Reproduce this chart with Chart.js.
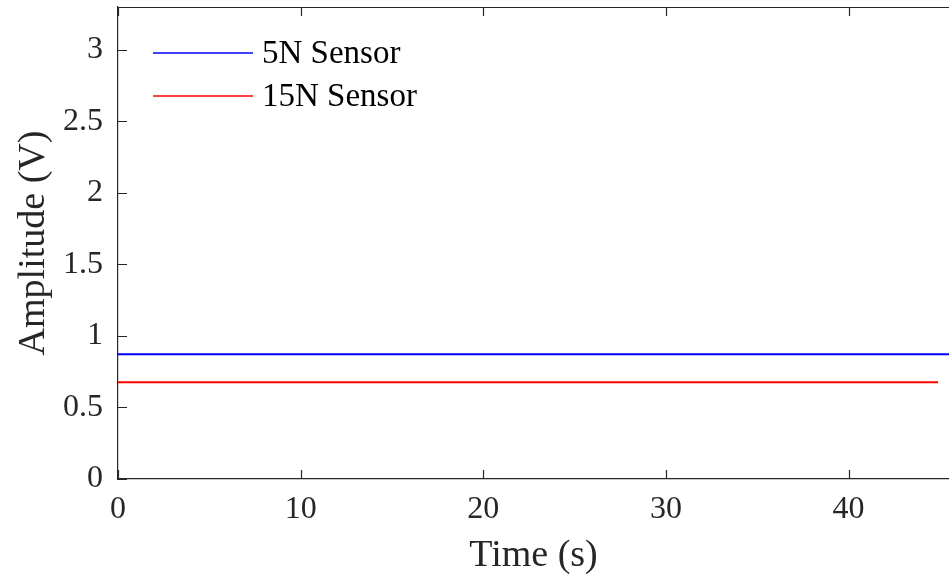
<!DOCTYPE html>
<html>
<head>
<meta charset="utf-8">
<script src="https://cdn.jsdelivr.net/npm/chart.js@4"></script>
<style>
  html, body { margin: 0; padding: 0; background: #fff; }
  #wrap { width: 949px; height: 581px; }
</style>
</head>
<body>
<div id="wrap"><canvas id="c"></canvas></div>
<script>
// valores
const tiempo5N = [0, 5, 10, 15, 20, 25, 30, 35, 40, 45.6];
const amp5N = [0.873, 0.872, 0.873, 0.873, 0.872, 0.873, 0.873, 0.872, 0.873, 0.873];
const tiempo15N = [0, 5, 10, 15, 20, 25, 30, 35, 40, 44.9];
const amp15N = [0.677, 0.677, 0.677, 0.676, 0.677, 0.677, 0.677, 0.677, 0.676, 0.677];
const xTicks = [0, 10, 20, 30, 40];
const yTicks = [0, 0.5, 1, 1.5, 2, 2.5, 3];
const etiquetas = ["5N Sensor", "15N Sensor"];
const colores = ["#0000ff", "#ff0000"];

const fuente = "'Liberation Serif', 'DejaVu Serif', serif";
const ejeColor = "#262626";

// ticks hacia dentro, borde superior y leyenda tipo MATLAB
const estiloMatlab = {
  id: "estiloMatlab",
  afterDraw(chart) {
    const ctx = chart.ctx;
    const { left, right, top, bottom } = chart.chartArea;
    const xs = chart.scales.x, ys = chart.scales.y;
    ctx.save();
    ctx.strokeStyle = ejeColor;
    ctx.lineWidth = 1.2;
    ctx.beginPath();
    ctx.moveTo(left, top + 0.5);
    ctx.lineTo(right, top + 0.5);
    xTicks.forEach(v => {
      const px = Math.round(xs.getPixelForValue(v)) + 0.5;
      ctx.moveTo(px, bottom);
      ctx.lineTo(px, bottom - 9);
      ctx.moveTo(px, top);
      ctx.lineTo(px, top + 9);
    });
    yTicks.forEach(v => {
      const py = Math.round(ys.getPixelForValue(v)) + 0.5;
      ctx.moveTo(left, py);
      ctx.lineTo(left + 9, py);
    });
    ctx.stroke();

    // leyenda
    ctx.font = "33px " + fuente;
    ctx.textBaseline = "middle";
    ctx.fillStyle = "#000";
    chart.data.datasets.forEach((ds, i) => {
      const y = 53 + i * 43;
      ctx.strokeStyle = ds.borderColor;
      ctx.lineWidth = 1.5;
      ctx.beginPath();
      ctx.moveTo(153, y);
      ctx.lineTo(253, y);
      ctx.stroke();
      ctx.fillText(ds.label, 262, y + 1);
    });
    ctx.restore();
  }
};

new Chart(document.getElementById("c"), {
  type: "line",
  data: {
    datasets: [
      {
        label: etiquetas[0],
        data: tiempo5N.map((t, i) => ({ x: t, y: amp5N[i] })),
        borderColor: colores[0],
        borderWidth: 2,
        pointRadius: 0,
        fill: false
      },
      {
        label: etiquetas[1],
        data: tiempo15N.map((t, i) => ({ x: t, y: amp15N[i] })),
        borderColor: colores[1],
        borderWidth: 2,
        pointRadius: 0,
        fill: false
      }
    ]
  },
  options: {
    responsive: true,
    maintainAspectRatio: false,
    animation: false,
    layout: { padding: { top: 7, right: 0, left: 0, bottom: 0 } },
    plugins: { legend: { display: false }, tooltip: { enabled: false } },
    scales: {
      x: {
        type: "linear",
        min: 0,
        max: 45.5,
        afterBuildTicks: s => { s.ticks = xTicks.map(v => ({ value: v })); },
        afterFit: s => { s.height = 102; s.paddingLeft = 0; s.paddingRight = 0; },
        grid: { display: false, drawTicks: false },
        border: { display: true, color: ejeColor, width: 1.2 },
        ticks: { color: "#262626", padding: 11, font: { family: fuente, size: 32 } },
        title: {
          display: true,
          text: "Time (s)",
          color: "#262626",
          font: { family: fuente, size: 38 },
          padding: { top: 0, bottom: 2 }
        }
      },
      y: {
        type: "linear",
        min: 0,
        max: 3.3,
        afterBuildTicks: s => { s.ticks = yTicks.map(v => ({ value: v })); },
        afterFit: s => { s.width = 118; s.paddingTop = 0; s.paddingBottom = 0; },
        grid: { display: false, drawTicks: false },
        border: { display: true, color: ejeColor, width: 1.2 },
        ticks: {
          color: "#262626",
          padding: 15,
          font: { family: fuente, size: 32 },
          callback: v => String(v)
        },
        title: {
          display: true,
          text: "Amplitude (V)",
          color: "#262626",
          font: { family: fuente, size: 38 },
          padding: { top: 11, bottom: 0 }
        }
      }
    }
  },
  plugins: [estiloMatlab]
});
</script>
</body>
</html>
